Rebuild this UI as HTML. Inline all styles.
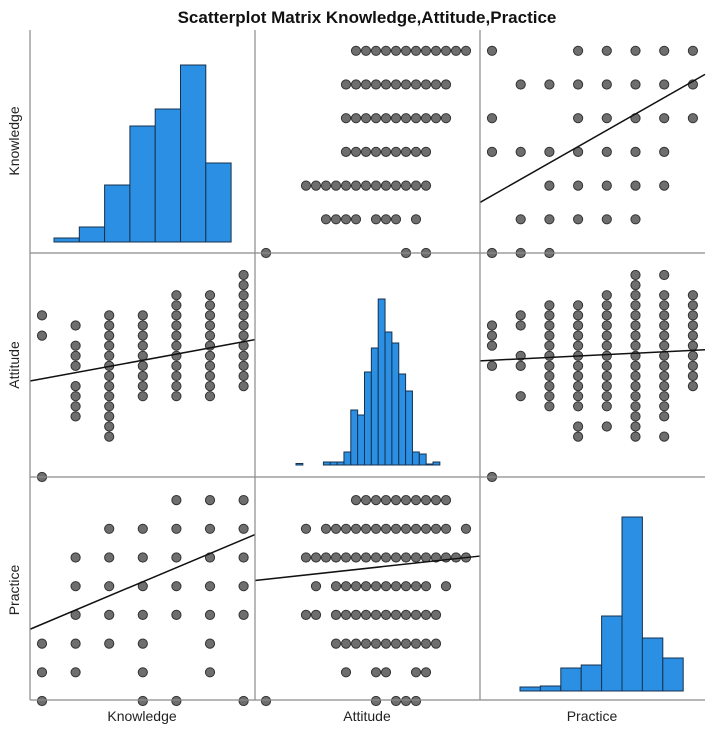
<!DOCTYPE html>
<html><head><meta charset="utf-8"><style>
html,body{margin:0;padding:0;background:#fff;}
svg{display:block;font-family:"Liberation Sans",sans-serif;}
</style></head><body>
<svg id="chart" width="713" height="731" viewBox="0 0 713 731" xmlns="http://www.w3.org/2000/svg">
<text x="367" y="23" text-anchor="middle" font-size="17" font-weight="bold" fill="#111">Scatterplot Matrix Knowledge,Attitude,Practice</text>
<text transform="translate(19,141) rotate(-90)" text-anchor="middle" font-size="14" fill="#222">Knowledge</text>
<text transform="translate(19,365) rotate(-90)" text-anchor="middle" font-size="14" fill="#222">Attitude</text>
<text transform="translate(19,590) rotate(-90)" text-anchor="middle" font-size="14" fill="#222">Practice</text>
<text x="142" y="721" text-anchor="middle" font-size="14" fill="#222">Knowledge</text>
<text x="367" y="721" text-anchor="middle" font-size="14" fill="#222">Attitude</text>
<text x="592" y="721" text-anchor="middle" font-size="14" fill="#222">Practice</text>
<g id="marks"></g>
<g id="grid"></g>
</svg>
<script>
// Knowledge 0..6, Attitude 0..20, Practice 0..7
const knowledgeHist = [4, 15, 57, 116, 133, 177, 79];
const attitudeHist = [1.5, 0, 0, 0, 3, 3, 3, 13, 55, 50, 93, 117, 166, 133, 122, 91, 74, 13, 11, 1, 3];
const practiceHist = [4, 5, 23, 26, 75, 174, 53, 33];
// [knowledge, attitudeLo, attitudeHi]
const attByKnowledge = [[6,9,20],[5,8,18],[4,8,18],[3,8,16],[2,4,16],[1,6,9],[1,11,13],[1,15,15],[0,0,0],[0,14,14],[0,16,16]];
// [knowledge, attitudeLo, attitudeHi] for attitude-vs-knowledge panel
const attColsByKnowledge = [[0,16,16],[0,14,14],[0,0,0],[1,15,15],[1,11,13],[1,6,9],[2,4,16],[3,8,16],[4,8,18],[5,8,18],[6,9,20]];
// [practice, attitudeLo, attitudeHi]
const attByPractice = [[0,13,15],[0,11,11],[0,0,0],[1,15,16],[1,11,12],[1,8,8],[2,7,17],[3,7,17],[3,4,5],[4,7,18],[4,5,5],[5,4,20],[6,20,20],[6,6,18],[6,4,4],[7,9,18]];
// [practice, attitudeLo, attitudeHi] for practice-vs-attitude panel
const pracByAttitude = [[7,9,18],[6,4,4],[6,6,18],[6,20,20],[5,4,20],[4,5,5],[4,7,16],[4,18,18],[3,4,5],[3,7,17],[2,7,17],[1,8,8],[1,11,12],[1,15,16],[0,0,0],[0,11,11],[0,13,15]];
// [knowledge, practice levels]
const pracByKnowledge = [[6,[0,3,4,5,6,7]],[5,[1,2,3,4,5,6,7]],[4,[0,3,4,5,6,7]],[3,[0,1,2,3,4,5,6]],[2,[2,3,4,5,6]],[1,[1,2,3,4,5]],[0,[0,1,2]]];
const knowByPractice = [[7,[4,5,6]],[6,[2,3,4,5,6]],[5,[1,2,3,4,5,6]],[4,[1,2,3,4,5,6]],[3,[1,2,3,4,5,6]],[2,[0,1,2,3,5]],[1,[0,1,3,5]],[0,[0,3,4,6]]];
// fit lines [intercept at min, value at max] in y-units
const fitKA = [7.8, 12.0]; // knowledge vs attitude (y=knowledge)
const fitKP = [1.5, 5.3];
const fitAK = [9.5, 13.6];
const fitAP = [11.5, 12.6];
const fitPA = [4.2, 5.05];
const fitPK = [2.5, 5.8];

const NS='http://www.w3.org/2000/svg';
const marks=document.getElementById('marks');
const grid=document.getElementById('grid');
function mk(tag,attrs,parent){const e=document.createElementNS(NS,tag);for(const k in attrs)e.setAttribute(k,attrs[k]);(parent||marks).appendChild(e);return e;}
// cell geometry
const colX=[30,255,480], rowY=[30,253,477], W=225, H=223;
// axes: knowledge, attitude, practice
const xK=(c,v)=>colX[c]+12+v*33.6;
const xA=(c,v)=>colX[c]+11+v*10;
const xP=(c,v)=>colX[c]+12+v*28.7;
const yK=(r,v)=>rowY[r]+H-v*33.7;
const yA=(r,v)=>rowY[r]+H+1-v*10.1;
const yP=(r,v)=>rowY[r]+H+1-v*28.7;
function dot(x,y){const c=mk('circle',{cx:x,cy:y,r:4.6,fill:'#6e6e6e',stroke:'#333','stroke-width':1});

}
function fit(x1,y1,x2,y2){const l=mk('line',{x1:x1,y1:y1,x2:x2,y2:y2,stroke:'#111','stroke-width':1.5});

}
function bar(x,w,base,h){const b=mk('rect',{x:x,y:base-h,width:w,height:h,fill:'#2b8fe3',stroke:'#16324f','stroke-width':1});

}

// diagonal histograms
knowledgeHist.forEach((v,i)=>bar(54+i*25.3,25.3,242,v));
attitudeHist.forEach((v,i)=>bar(296+i*6.85,6.85,465,v));
practiceHist.forEach((v,i)=>bar(520+i*20.4,20.4,691,v));

// row 0: knowledge (y) vs attitude (x)
attByKnowledge.forEach(([k,lo,hi])=>{for(let a=lo;a<=hi;a++)dot(xA(1,a),yK(0,k));});
fit(colX[1],yK(0,fitKA[0]),colX[1]+W,yK(0,fitKA[1]));
// row 0: knowledge vs practice
pracByKnowledge.forEach(([k,ps])=>ps.forEach(p=>dot(xP(2,p),yK(0,k))));
fit(colX[2],yK(0,fitKP[0]),colX[2]+W,yK(0,fitKP[1]));
// row 1: attitude vs knowledge
attColsByKnowledge.forEach(([k,lo,hi])=>{for(let a=lo;a<=hi;a++)dot(xK(0,k),yA(1,a));});
fit(colX[0],yA(1,fitAK[0]),colX[0]+W,yA(1,fitAK[1]));
// row 1: attitude vs practice
attByPractice.forEach(([p,lo,hi])=>{for(let a=lo;a<=hi;a++)dot(xP(2,p),yA(1,a));});
fit(colX[2],yA(1,fitAP[0]),colX[2]+W,yA(1,fitAP[1]));
// row 2: practice vs knowledge
knowByPractice.forEach(([p,ks])=>ks.forEach(k=>dot(xK(0,k),yP(2,p))));
fit(colX[0],yP(2,fitPK[0]),colX[0]+W,yP(2,fitPK[1]));
// row 2: practice vs attitude
pracByAttitude.forEach(([p,lo,hi])=>{for(let a=lo;a<=hi;a++)dot(xA(1,a),yP(2,p));});
fit(colX[1],yP(2,fitPA[0]),colX[1]+W,yP(2,fitPA[1]));

// grid lines
[30,255,480].forEach(x=>{const l=mk('line',{x1:x,y1:30,x2:x,y2:700,stroke:'#8a8a8a','stroke-width':1.2},grid);

});
[253,477,700].forEach(y=>{const l=mk('line',{x1:30,y1:y,x2:705,y2:y,stroke:'#8a8a8a','stroke-width':1.2},grid);

});
</script>
</body></html>
